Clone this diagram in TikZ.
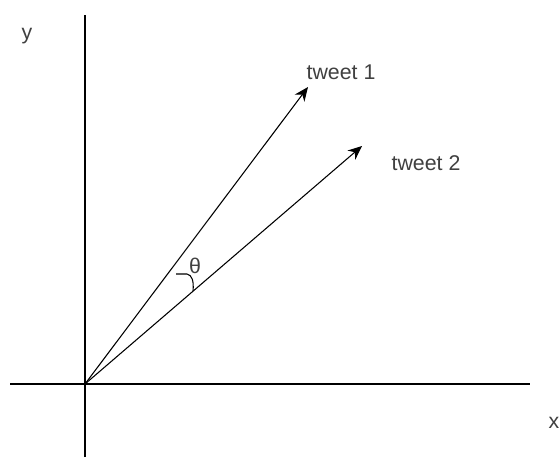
\documentclass[tikz,border=0pt]{standalone}
\usepackage{fontspec}
\setmainfont{Liberation Sans}
\usetikzlibrary{arrows.meta}
\tikzset{
  axis/.style={draw=black, line width=0.8pt},
  vec/.style={-{Stealth[length=10.5pt, width=9pt]}, line width=0.8pt},
  lbl/.style={font=\fontsize{16}{18}\selectfont, text=black!75, inner sep=0pt},
  anglemark/.style={line width=0.8pt},
}
\begin{document}
\begin{tikzpicture}[x=0.75pt, y=-0.75pt]
  \useasboundingbox (0,0) rectangle (560,457);
  \coordinate (o) at (85,384);
  \coordinate (ytop) at (85,15);
  \coordinate (ybot) at (85,457);
  \coordinate (xleft) at (10,384);
  \coordinate (xright) at (530,384);
  \coordinate (t1) at (308,87);
  \coordinate (t2) at (362,146);
  % axes
  \draw[axis] (ybot) -- (ytop);
  \draw[axis] (xleft) -- (xright);
  % tweet vectors
  \draw[vec] (o) -- (t1);
  \draw[vec] (o) -- (t2);
  \node[lbl] (ylabel) at (27,36) {y};
  \node[lbl] (xlabel) at (554,423) {x};
  \node[lbl] (tweet1) at (341,72) {tweet 1};
  \node[lbl] (tweet2) at (426,163) {tweet 2};
  % angle between them
  \node[lbl] (theta) at (195,266) {θ};
  \draw[anglemark] (176,274) -- (187,274) .. controls (192,275) and (194,281) .. (193,291);
\end{tikzpicture}
\end{document}
